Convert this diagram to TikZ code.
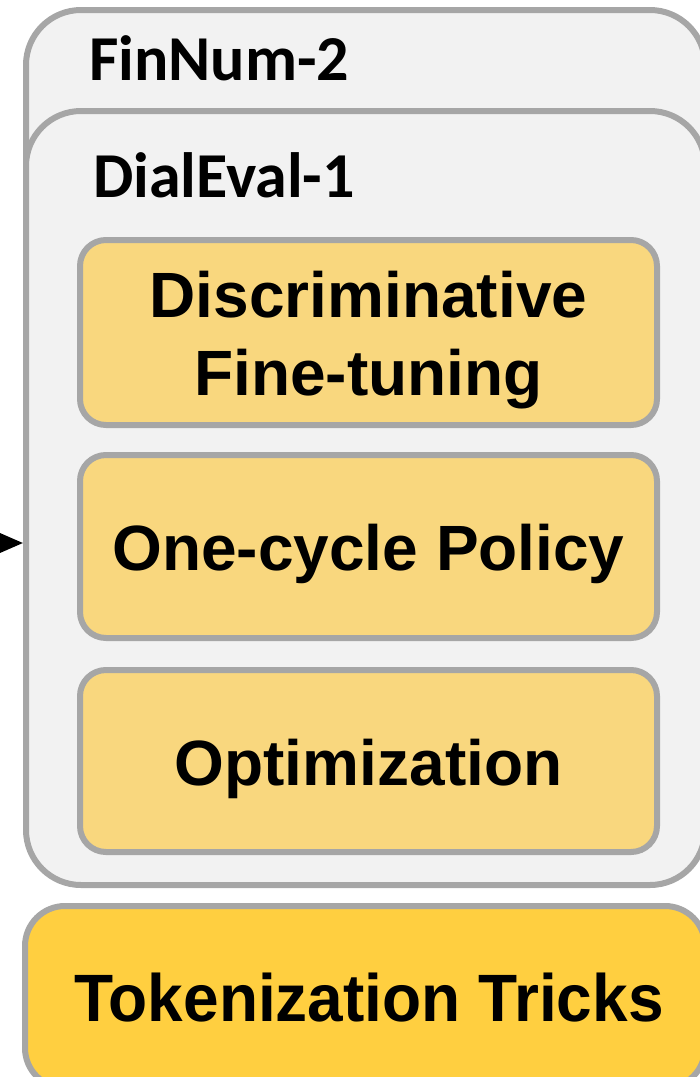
\documentclass[tikz,border=0pt]{standalone}
\usepackage{fontspec}
\setmainfont{Liberation Sans}
\newfontfamily\cardfont{Carlito}
\newfontfamily\narrowfont[FakeStretch=0.955]{Liberation Sans}
\usetikzlibrary{arrows.meta}
\definecolor{cardline}{HTML}{A6A6A6}
\definecolor{cardgray}{HTML}{F2F2F2}
\definecolor{stageyellow}{HTML}{F9D77E}
\definecolor{tokyellow}{HTML}{FFCF40}
\tikzset{
  card/.style={draw=cardline, fill=cardgray, line width=6pt, rounded corners=55pt, anchor=north west},
  cardlabel/.style={anchor=base west, inner sep=0pt, font=\cardfont\bfseries\fontsize{64}{64}\selectfont},
  stage/.style={draw=cardline, fill=stageyellow, line width=6pt, rounded corners=26pt,
    minimum width=577pt, align=center, inner sep=0pt, text height=48pt, text depth=0pt,
    font=\bfseries\fontsize{64}{78}\selectfont},
}

\begin{document}
\begin{tikzpicture}[x=1pt,y=-1pt]
\useasboundingbox (0,0) rectangle (700,1077);
\clip (0,0) rectangle (700,1077);
\node[card, minimum width=679pt, minimum height=853pt] (finnum) at (23,7) {};
\node[cardlabel] (finnumlabel) at (89,80) {FinNum-2};
\node[card, minimum width=679pt, minimum height=774pt] (dialeval) at (23,108) {};
\node[cardlabel] (dialevallabel) at (93,197) {DialEval-1};
\node[stage, minimum height=185pt, text height=126pt] (discft) at (368.5,332.5) {Discriminative\\Fine-tuning};
\node[stage, minimum height=183pt] (onecycle) at (368.5,546.5) {One-cycle Policy};
\node[stage, minimum height=182pt] (optim) at (368.5,761) {Optimization};
\node[card, fill=tokyellow, rounded corners=40pt, minimum width=680pt, minimum height=182pt,
  text height=48pt, text depth=0pt, inner sep=0pt, anchor=north west,
  font=\narrowfont\bfseries\fontsize{67}{67}\selectfont] (tokenization) at (22,903) {\hspace*{8pt}Tokenization Tricks};
\coordinate (feed) at (-60,543);
\draw[line width=3pt, -{Triangle[length=24pt,width=20pt]}] (feed) -- (feed -| dialeval.west);
\end{tikzpicture}
\end{document}
